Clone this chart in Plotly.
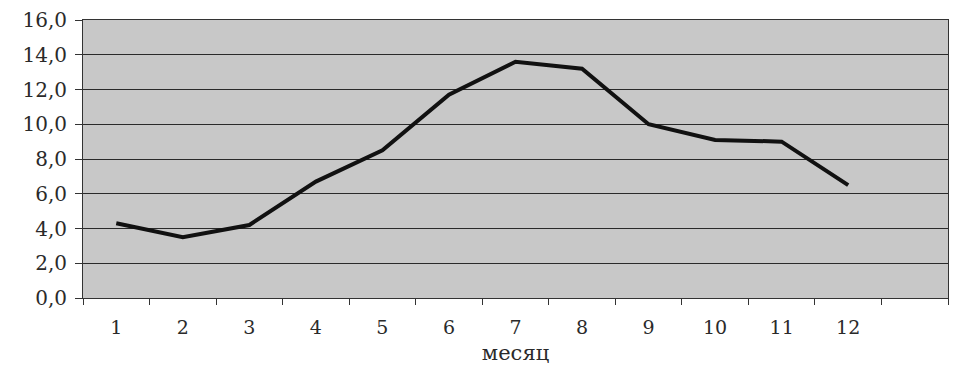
import plotly.graph_objects as go

months = ["1", "2", "3", "4", "5", "6", "7", "8", "9", "10", "11", "12"]
values = [4.3, 3.5, 4.2, 6.7, 8.5, 11.7, 13.6, 13.2, 10.0, 9.1, 9.0, 6.5]
y_ticks = [0, 2, 4, 6, 8, 10, 12, 14, 16]
y_tick_labels = ["0,0", "2,0", "4,0", "6,0", "8,0", "10,0", "12,0", "14,0", "16,0"]
x_title = "месяц"

categories = months + [" "]

fig = go.Figure()
fig.add_trace(go.Scatter(
    x=months, y=values, mode="lines",
    line=dict(color="#111111", width=4),
    showlegend=False, hoverinfo="skip",
))

font_family = "DejaVu Serif, Liberation Serif, serif"
txt = "#2a2a2a"
fig.update_layout(
    width=962, height=368,
    margin=dict(l=75, r=22, t=12, b=78),
    paper_bgcolor="white",
    plot_bgcolor="#c8c8c8",
    font=dict(family=font_family, size=19, color=txt),
    xaxis=dict(
        type="category",
        categoryorder="array", categoryarray=categories,
        range=[-0.5, 12.5],
        tickson="boundaries",
        ticks="outside", ticklen=6, tickcolor="#333333",
        showgrid=False,
        showline=True, linecolor="#333333", linewidth=1, mirror=True,
        automargin=False,
        ticklabeloverflow="allow",
        tickfont=dict(family=font_family, size=19, color=txt),
        ticklabelstandoff=12,
        title=dict(text=x_title, font=dict(family=font_family, size=21, color=txt), standoff=8),
    ),
    yaxis=dict(
        range=[0, 16],
        tickvals=y_ticks, ticktext=y_tick_labels,
        ticks="outside", ticklen=7, tickcolor="#333333",
        showgrid=True, gridcolor="#2a2a2a", gridwidth=1,
        showline=True, linecolor="#333333", linewidth=1, mirror=True,
        zeroline=False,
        automargin=False,
        ticklabeloverflow="allow",
        tickfont=dict(family=font_family, size=20, color=txt),
        ticklabelstandoff=4,
    ),
)

fig.write_html("out.html")
